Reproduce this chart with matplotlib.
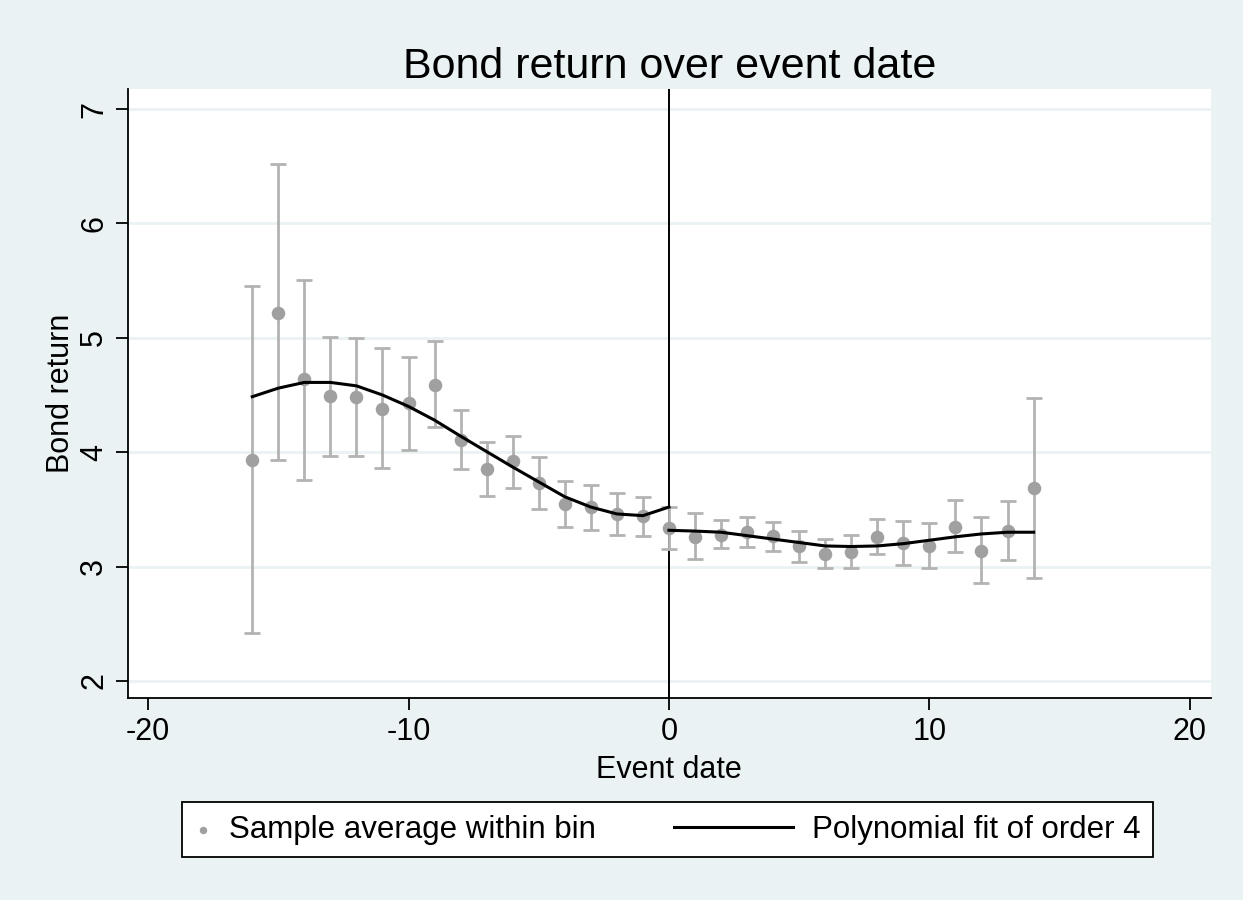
import numpy as np
import matplotlib.pyplot as plt
from matplotlib.legend_handler import HandlerLine2D

plt.rcParams['font.family'] = ['Liberation Sans', 'DejaVu Sans']
plt.rcParams['axes.unicode_minus'] = False

# bin averages with confidence intervals
event_date = [-16, -15, -14, -13, -12, -11, -10, -9, -8, -7, -6, -5, -4, -3, -2, -1,
              0, 1, 2, 3, 4, 5, 6, 7, 8, 9, 10, 11, 12, 13, 14]
bond_ret = [3.93, 5.22, 4.64, 4.49, 4.48, 4.38, 4.43, 4.59, 4.11, 3.85, 3.92, 3.73, 3.55, 3.52, 3.46, 3.44,
            3.34, 3.26, 3.28, 3.30, 3.27, 3.18, 3.11, 3.13, 3.26, 3.21, 3.18, 3.35, 3.14, 3.31, 3.69]
ci_low = [2.42, 3.93, 3.76, 3.97, 3.97, 3.86, 4.02, 4.22, 3.85, 3.62, 3.69, 3.50, 3.35, 3.32, 3.28, 3.27,
          3.15, 3.07, 3.16, 3.17, 3.14, 3.04, 2.99, 2.99, 3.11, 3.01, 2.99, 3.13, 2.86, 3.06, 2.90]
ci_high = [5.45, 6.52, 5.51, 5.01, 5.00, 4.91, 4.83, 4.97, 4.37, 4.09, 4.14, 3.96, 3.75, 3.71, 3.64, 3.61,
           3.52, 3.47, 3.41, 3.43, 3.39, 3.31, 3.24, 3.28, 3.42, 3.40, 3.38, 3.58, 3.43, 3.57, 4.47]

# polynomial fit (before / after event)
fit_x_pre = [-16, -15, -14, -13, -12, -11, -10, -9, -8, -7, -6, -5, -4, -3, -2, -1, 0]
fit_y_pre = [4.485, 4.56, 4.61, 4.61, 4.58, 4.50, 4.40, 4.28, 4.14, 4.005, 3.87, 3.74, 3.61, 3.52, 3.46, 3.445, 3.52]
fit_x_post = [0, 1, 2, 3, 4, 5, 6, 7, 8, 9, 10, 11, 12, 13, 14]
fit_y_post = [3.317, 3.31, 3.30, 3.27, 3.24, 3.21, 3.18, 3.175, 3.18, 3.20, 3.23, 3.26, 3.285, 3.30, 3.30]


class LongLine(HandlerLine2D):
    # legend line that reaches further left than the handle box
    def get_xdata(self, legend, xdescent, ydescent, width, height, fontsize):
        return [-xdescent - 3.3 * fontsize, -xdescent + width], [-xdescent + 0.5 * width]


bg = '#EAF2F3'
fig = plt.figure(figsize=(12.43, 9), dpi=100, facecolor=bg)
ax = fig.add_axes([0.103, 0.2244, 0.871, 0.6766])

x = np.array(event_date)
y = np.array(bond_ret)
yerr = [y - np.array(ci_low), np.array(ci_high) - y]
ax.errorbar(x, y, yerr=yerr, fmt='none', ecolor='#B3B3B3', elinewidth=2, capsize=6, capthick=2, zorder=2)
pts = ax.scatter(x, y, s=95, color='#A0A0A0', zorder=3, linewidths=0)
line, = ax.plot(fit_x_pre, fit_y_pre, color='black', lw=2.2, zorder=4)
ax.plot(fit_x_post, fit_y_post, color='black', lw=2.2, zorder=4)
ax.axvline(0, color='black', lw=1.4, zorder=1)

ax.set_xlim(-20.77, 20.8)
ax.set_ylim(1.85, 7.175)
ax.set_xticks([-20, -10, 0, 10, 20])
ax.set_yticks([2, 3, 4, 5, 6, 7])
ax.grid(axis='y', color=bg, lw=2)
ax.set_axisbelow(True)
for s in ['top', 'right']:
    ax.spines[s].set_visible(False)
ax.spines['left'].set_linewidth(1.3)
ax.spines['bottom'].set_linewidth(1.3)
ax.tick_params(length=8.6, width=1.3, labelsize=22, direction='out', pad=5)
for lab in ax.get_yticklabels():
    lab.set_rotation(90)
    lab.set_va('center')

ax.set_title('Bond return over event date', fontsize=31, pad=8)
ax.set_xlabel('Event date', fontsize=22, labelpad=6)
ax.set_ylabel('Bond return', fontsize=22, labelpad=2)

leg = fig.legend([pts, line], ['Sample average within bin', 'Polynomial fit of order 4'],
                 loc='center', bbox_to_anchor=(0.537, 0.0778), ncol=2, fontsize=22.5,
                 frameon=True, fancybox=False, edgecolor='black', facecolor='white', framealpha=1,
                 handlelength=0.5, handletextpad=0.6, columnspacing=5.8, markerscale=0.55,
                 borderpad=0.4, handler_map={line: LongLine()})
leg.get_frame().set_linewidth(1.3)

fig.savefig('out.png', dpi=100, facecolor=bg)
